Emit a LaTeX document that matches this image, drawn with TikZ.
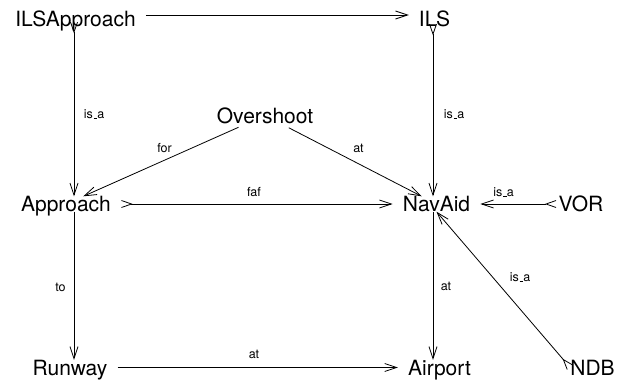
\documentclass[tikz,border=0pt]{standalone}
\usepackage{fontspec}
\setmainfont{TeX Gyre Heros}
\usetikzlibrary{arrows.meta}

% relation name with a short rule in place of the underscore
\newcommand{\isalbl}{is\kern.06em\vbox{\hrule height .7pt width .3em}a}

\begin{document}
\begin{tikzpicture}[x=1pt,y=-1pt,
  concept/.style={font=\fontsize{21}{25}\selectfont,inner xsep=10pt,inner ysep=0pt,text height=15pt,text depth=0pt},
  rel/.style={font=\fontsize{12.5}{15}\selectfont,inner sep=0pt},
  link/.style={line width=0.8pt,-{Straight Barb[length=12pt,width=8pt]}},
  tailed/.style={line width=0.8pt,{Straight Barb[reversed,length=10pt,width=7pt]}-{Straight Barb[length=12pt,width=8pt]}}
]
\useasboundingbox (0,0) rectangle (626,383);

% columns the vertical links run along
\coordinate (colL) at (74,0);
\coordinate (colR) at (433,0);

% concepts
\node[concept] (ilsapp) at (75.5,19) {ILSApproach};
\node[concept] (ils) at (434.5,19) {ILS};
\node[concept] (overshoot) at (265,115.5) {Overshoot};
\node[concept] (approach) at (66,204) {Approach};
\node[concept] (navaid) at (436.5,204) {NavAid};
\node[concept] (vor) at (581,204) {VOR};
\node[concept] (runway) at (70,367.5) {Runway};
\node[concept] (airport) at (439.5,367.5) {Airport};
\node[concept] (ndb) at (592.5,367.5) {NDB};

% relations
\draw[link] ([yshift=4pt]ilsapp.east) -- ([yshift=4pt]ils.west);
\draw[tailed] ([yshift=5pt]ilsapp.south -| colL) -- (approach.north -| colL);
\draw[tailed] ([yshift=3pt]ils.south -| colR) -- (navaid.north -| colR);
\draw[link,shorten <=10pt] (overshoot) -- (approach);
\draw[link,shorten <=10pt] (overshoot) -- (navaid);
\draw[tailed] (approach.east) -- (navaid.west);
\draw[tailed] ([xshift=8pt]vor.west) -- (navaid.east);
\draw[tailed] ([xshift=10pt]ndb.west) -- (navaid.south);
\draw[link] (approach.south -| colL) -- (runway.north -| colL);
\draw[link] (navaid.south -| colR) -- (airport.north -| colR);
\draw[link] (runway.east) -- (airport.west);

% relation names
\node[rel] (isa1) at (94,114) {\isalbl};
\node[rel] (isa2) at (454,114) {\isalbl};
\node[rel] (for1) at (164.5,148) {for};
\node[rel] (at1) at (358.5,148) {at};
\node[rel] (faf1) at (254,192.5) {faf};
\node[rel] (isa3) at (503.5,192.5) {\isalbl};
\node[rel] (isa4) at (520,277.5) {\isalbl};
\node[rel] (to1) at (60.5,287) {to};
\node[rel] (at2) at (446,286) {at};
\node[rel] (at3) at (254,354) {at};
\end{tikzpicture}
\end{document}
